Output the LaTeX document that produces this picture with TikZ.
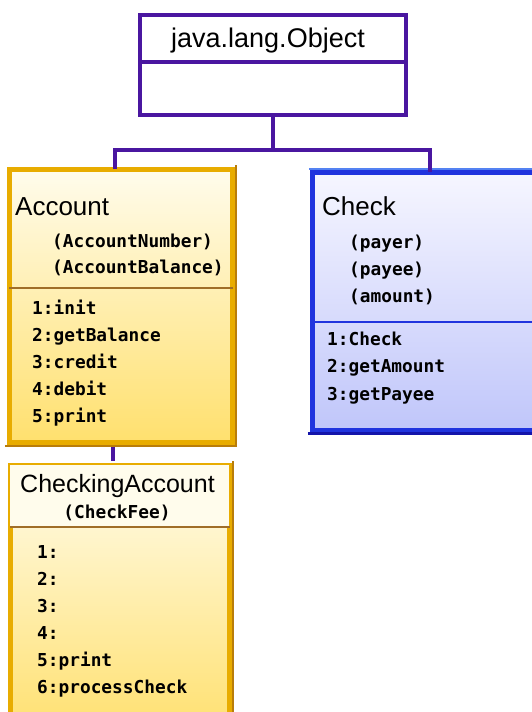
\documentclass[tikz,border=0pt]{standalone}
\usepackage{fontspec}
\setmainfont{Liberation Sans}
\newfontfamily\monof{DejaVu Sans Mono}
\definecolor{objc}{RGB}{74,22,160}
\definecolor{gold}{RGB}{232,172,0}
\definecolor{golddk}{RGB}{185,125,10}
\definecolor{cream}{RGB}{255,252,236}
\definecolor{yel}{RGB}{255,224,110}
\definecolor{divbrown}{RGB}{160,110,40}
\definecolor{bluec}{RGB}{32,52,222}
\definecolor{bluelt}{RGB}{84,130,242}
\definecolor{bluedk}{RGB}{20,20,170}
\definecolor{lavtop}{RGB}{246,246,255}
\definecolor{lavbot}{RGB}{192,198,250}
\tikzset{
  box/.style={rectangle, inner sep=0pt, anchor=north west},
  objbox/.style={box, draw=objc, line width=4pt, fill=white},
  accbox/.style={box, top color=cream, bottom color=yel, draw=gold, line width=4.5pt},
  chkbox/.style={box, top color=lavtop, bottom color=lavbot, draw=bluec, line width=4.5pt},
  conn/.style={draw=objc, line width=3.6pt},
  title/.style={inner sep=0pt, font=\fontsize{26}{30}\selectfont},
  mono/.style={inner sep=0pt, anchor=base west, font=\fontsize{17.8}{20}\monof\bfseries},
}
\begin{document}
\begin{tikzpicture}[x=1pt,y=-1pt]
\clip (0,0) rectangle (532,712);
\fill[white] (0,0) rectangle (532,712);
% boxes
\node[objbox, minimum width=266pt, minimum height=100pt] (obj) at (138,13) {};
\node[accbox, minimum width=223pt, minimum height=273pt] (acc) at (7,167) {};
\node[chkbox, minimum width=250pt, minimum height=258pt] (chk) at (310,170) {};
\node[accbox, minimum width=219pt, minimum height=270pt] (ca) at (8,463) {};
% lighter title area of CheckingAccount
\fill[cream] ([shift={(2.25,2.25)}]ca.north west) rectangle ([xshift=-2.25]ca.east |- 0,527);
% bevel edges
\draw[golddk, line width=1.5pt] ([shift={(-2,1.5)}]acc.south west) -- ([shift={(2,1.5)}]acc.south east);
\draw[golddk, line width=1.2pt] ([shift={(1.5,-2)}]acc.north east) -- ([shift={(1.5,2)}]acc.south east);
\draw[golddk, line width=1.2pt] ([shift={(1.5,-2)}]ca.north east) -- ([shift={(1.5,2)}]ca.south east);
\draw[bluelt, line width=2pt] ([shift={(-1,-1.2)}]chk.north west) -- ([shift={(1,-1.2)}]chk.north east);
\draw[bluedk, line width=2.5pt] ([shift={(-2.2,1)}]chk.south west) -- ([shift={(2,1)}]chk.south east);
% dividers
\draw[objc, line width=3.5pt] (obj.west |- 0,62) -- (obj.east |- 0,62);
\draw[divbrown, line width=1.8pt] ([xshift=2]acc.west |- 0,288) -- ([xshift=-2]acc.east |- 0,288);
\draw[bluec, line width=2pt] ([xshift=2]chk.west |- 0,322) -- ([xshift=-2]chk.east |- 0,322);
\draw[divbrown, line width=1.8pt] ([xshift=2]ca.west |- 0,527) -- ([xshift=-2]ca.east |- 0,527);
% connectors
\coordinate (j) at (273,150);
\coordinate (jl) at (115,150);
\coordinate (jr) at (430,150);
\draw[conn] (obj.south -| j) -- (j);
\draw[conn, line join=miter] ([yshift=-2.2pt]acc.north -| jl) -- (jl) -- (jr) -- ([yshift=-2.2pt]chk.north -| jr);
\draw[conn] ([yshift=-2.2pt]acc.south -| 113,0) -- ([yshift=2.2pt]ca.north -| 113,0);
% texts: Object
\node[title, anchor=base, font=\fontsize{27}{30}\selectfont] (tobj) at (268,47) {java.lang.Object};
% Account
\node[title, anchor=base west] (tacc) at (15,215) {Account};
\node[mono] (af1) at (52,247) {(AccountNumber)};
\node[mono] (af2) at (52,273) {(AccountBalance)};
\node[mono] (am1) at (32,314) {1:init};
\node[mono] (am2) at (32,341) {2:getBalance};
\node[mono] (am3) at (32,368) {3:credit};
\node[mono] (am4) at (32,395) {4:debit};
\node[mono] (am5) at (32,422) {5:print};
% Check
\node[title, anchor=base west] (tchk) at (322,215) {Check};
\node[mono] (cf1) at (349,248) {(payer)};
\node[mono] (cf2) at (349,275) {(payee)};
\node[mono] (cf3) at (349,302) {(amount)};
\node[mono] (cm1) at (327,345) {1:Check};
\node[mono] (cm2) at (327,372) {2:getAmount};
\node[mono] (cm3) at (327,400) {3:getPayee};
% CheckingAccount
\node[title, anchor=base, font=\fontsize{25}{30}\selectfont] (tca) at (117.5,492) {CheckingAccount};
\node[mono, anchor=base] (caf1) at (117,518) {(CheckFee)};
\node[mono] (cam1) at (37,558) {1:};
\node[mono] (cam2) at (37,585) {2:};
\node[mono] (cam3) at (37,612) {3:};
\node[mono] (cam4) at (37,639) {4:};
\node[mono] (cam5) at (37,666) {5:print};
\node[mono] (cam6) at (37,693) {6:processCheck};
\end{tikzpicture}
\end{document}
